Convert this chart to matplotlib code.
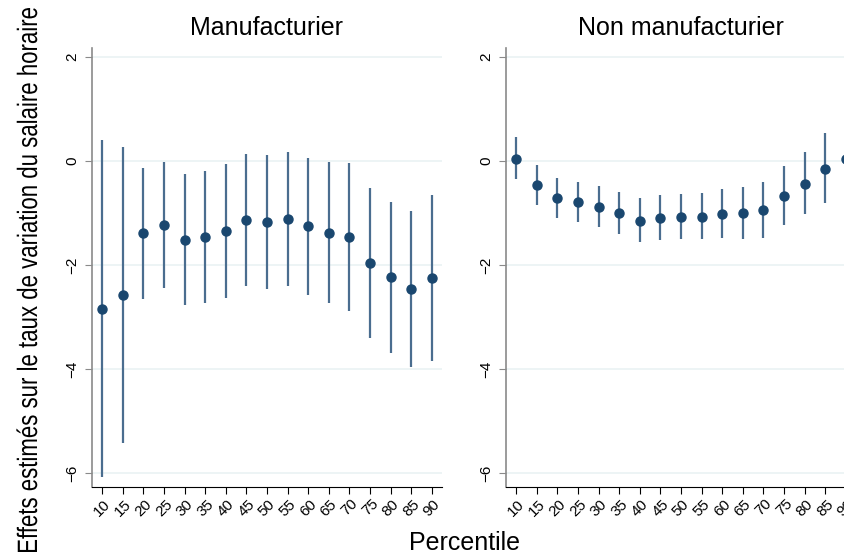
import matplotlib.pyplot as plt
from matplotlib.textpath import TextPath
from matplotlib.patches import PathPatch
from matplotlib.font_manager import FontProperties
from matplotlib.transforms import Affine2D, IdentityTransform

# Percentiles on the x axis.
percentiles = [10, 15, 20, 25, 30, 35, 40, 45, 50, 55, 60, 65, 70, 75, 80, 85, 90]

# Manufacturier: point estimates and confidence bounds.
manuf_est = [-2.85, -2.58, -1.39, -1.24, -1.52, -1.47, -1.35, -1.13, -1.18,
             -1.12, -1.26, -1.38, -1.47, -1.97, -2.24, -2.47, -2.25]
manuf_hi = [0.40, 0.27, -0.13, -0.03, -0.25, -0.19, -0.07, 0.14, 0.11,
            0.17, 0.05, -0.02, -0.05, -0.53, -0.79, -0.96, -0.65]
manuf_lo = [-6.08, -5.43, -2.65, -2.45, -2.78, -2.74, -2.63, -2.40, -2.47,
            -2.40, -2.58, -2.74, -2.89, -3.41, -3.69, -3.97, -3.84]

# Non manufacturier.
non_est = [0.04, -0.47, -0.72, -0.79, -0.89, -1.00, -1.15, -1.10, -1.08,
           -1.07, -1.02, -1.01, -0.94, -0.67, -0.44, -0.15, 0.04]
non_hi = [0.45, -0.08, -0.33, -0.40, -0.49, -0.60, -0.72, -0.65, -0.64,
          -0.62, -0.54, -0.51, -0.40, -0.09, 0.17, 0.53, 0.81]
non_lo = [-0.35, -0.85, -1.10, -1.18, -1.28, -1.40, -1.56, -1.52, -1.50,
          -1.51, -1.49, -1.51, -1.48, -1.24, -1.03, -0.81, -0.71]

panels = [('Manufacturier', manuf_est, manuf_lo, manuf_hi),
          ('Non manufacturier', non_est, non_lo, non_hi)]

ylabel = 'Effets estimés sur le taux de variation du salaire horaire'

plt.rcParams['font.family'] = ['Liberation Sans', 'DejaVu Sans']

fig = plt.figure(figsize=(8.45, 5.56), dpi=100)
lefts = [92 / 845, 506 / 845]

for left, (title, est, lo, hi) in zip(lefts, panels):
	ax = fig.add_axes([left, 0.1241, 350 / 845, 0.7896])
	ax.vlines(percentiles, lo, hi, color='#4a6d8f', linewidth=1.6, zorder=2)
	ax.plot(percentiles, est, 'o', color='#1a476f', markersize=6.5, zorder=3)
	ax.set_xlim(7.5, 92.5)
	ax.set_ylim(-6.27, 2.17)
	ax.set_yticks([-6, -4, -2, 0, 2])
	ax.set_xticks(percentiles)
	ax.set_xticklabels([str(p) for p in percentiles], rotation=45, fontsize=11)
	for lab in ax.get_yticklabels():
		lab.set_rotation(90)
		lab.set_va('center')
		lab.set_fontsize(11)
	ax.grid(axis='y', color='#eaf2f3', linewidth=1.2, zorder=0)
	ax.spines['top'].set_visible(False)
	ax.spines['right'].set_visible(False)
	ax.spines['left'].set_color('#8a8a8a')
	ax.spines['left'].set_linewidth(1.2)
	ax.spines['bottom'].set_color('black')
	ax.tick_params(axis='y', length=5, color='#8a8a8a', pad=4)
	ax.tick_params(axis='x', length=5, color='black', pad=2)
	ax.set_title(title, fontsize=18, pad=9)

fig.text(465 / 845, 1 - 543 / 556, 'Percentile', ha='center', va='center', fontsize=18)

# Condensed y label: the text is drawn as a path and squeezed along its length.
tp = TextPath((0, 0), ylabel, size=28, prop=FontProperties(family='Liberation Sans'))
ext = tp.get_extents()
sx = 544 / ext.width
h = fig.get_figheight() * fig.dpi
trans = (Affine2D().translate(-ext.x0 - ext.width / 2, 0).scale(sx, 1.0)
         .rotate_deg(90).translate(37, h / 2 - 2))
fig.patches.append(PathPatch(trans.transform_path(tp), facecolor='black',
                             edgecolor='none', transform=IdentityTransform(),
                             figure=fig))

fig.savefig('out.png', dpi=100)
